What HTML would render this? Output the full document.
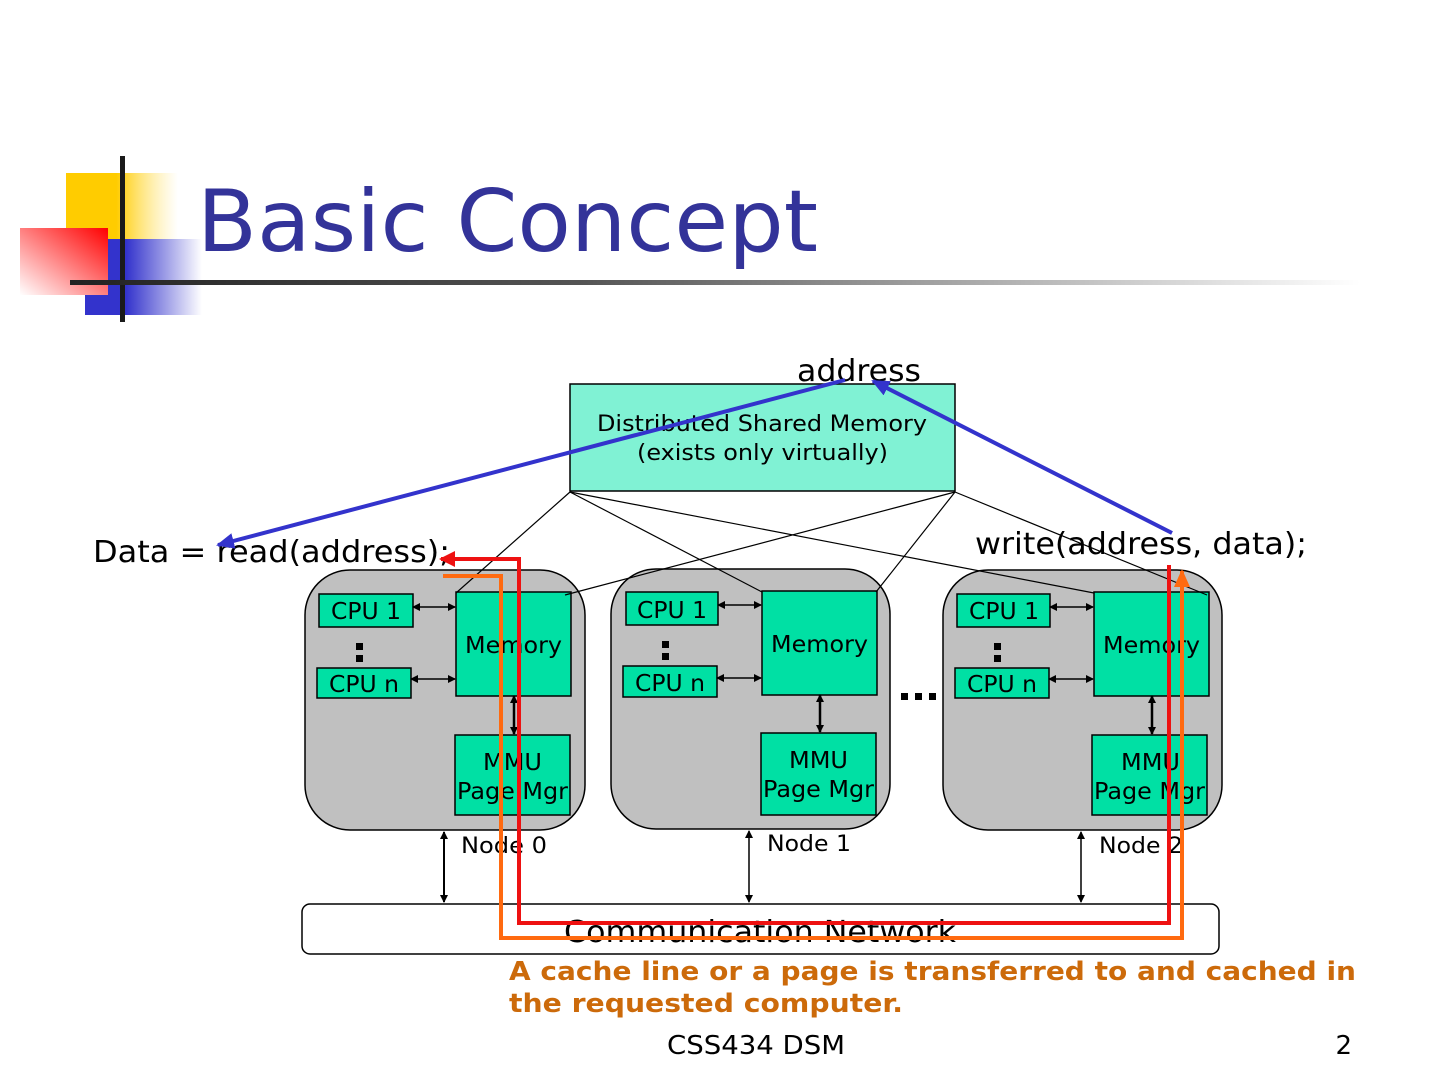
<!DOCTYPE html>
<html><head><meta charset="utf-8"><style>
html,body{margin:0;padding:0;background:#fff;}
svg{display:block;}
text{font-family:"DejaVu Sans","Liberation Sans",sans-serif;}
</style></head><body>
<svg width="1440" height="1080" viewBox="0 0 1440 1080" xmlns="http://www.w3.org/2000/svg">
<defs>
<linearGradient id="gy" x1="0" x2="1"><stop offset="0.45" stop-color="#ffcc00"/><stop offset="1" stop-color="#fff" stop-opacity="0.6"/></linearGradient>
<linearGradient id="gb" x1="0" x2="1"><stop offset="0.35" stop-color="#3333cc"/><stop offset="1" stop-color="#fff"/></linearGradient>
<linearGradient id="gr" x1="1" y1="0" x2="0" y2="1"><stop offset="0" stop-color="#ff0000"/><stop offset="1" stop-color="#fff"/></linearGradient>
<linearGradient id="gl" x1="0" x2="1"><stop offset="0" stop-color="#222"/><stop offset="0.4" stop-color="#555"/><stop offset="1" stop-color="#fff"/></linearGradient>
<marker id="ab" markerWidth="8" markerHeight="8" refX="7" refY="4" orient="auto-start-reverse" markerUnits="userSpaceOnUse"><path d="M0,0 L8,4 L0,8 Z" fill="#000"/></marker>
<marker id="ablue" markerWidth="18" markerHeight="16" refX="16" refY="8" orient="auto" markerUnits="userSpaceOnUse"><path d="M0,0 L18,8 L0,16 Z" fill="#3333cc"/></marker>
<marker id="ared" markerWidth="16" markerHeight="16" refX="14" refY="8" orient="auto" markerUnits="userSpaceOnUse"><path d="M0,0 L16,8 L0,16 Z" fill="#ee1111"/></marker>
<marker id="aor" markerWidth="18" markerHeight="16" refX="16" refY="8" orient="auto" markerUnits="userSpaceOnUse"><path d="M0,0 L18,8 L0,16 Z" fill="#ff6a10"/></marker>
</defs>
<rect x="66" y="173" width="112" height="66" fill="url(#gy)"/>
<rect x="85" y="239" width="117" height="76" fill="url(#gb)"/>
<rect x="20" y="228" width="88" height="67" fill="url(#gr)"/>
<rect x="120" y="156" width="5" height="166" fill="#1a1a1a"/>
<rect x="70" y="280" width="1290" height="5" fill="url(#gl)"/>
<text x="197" y="251" font-size="86" fill="#333399" textLength="621" lengthAdjust="spacingAndGlyphs">Basic Concept</text>

<rect x="570" y="384" width="385" height="107" fill="#80f2d4" stroke="#000" stroke-width="1.5"/>
<text x="597" y="431" font-size="22" textLength="330" lengthAdjust="spacingAndGlyphs">Distributed Shared Memory</text>
<text x="637" y="460" font-size="22" textLength="251" lengthAdjust="spacingAndGlyphs">(exists only virtually)</text>
<text x="797" y="381" font-size="30" textLength="124" lengthAdjust="spacingAndGlyphs">address</text>
<text x="93" y="562" font-size="30" textLength="357" lengthAdjust="spacingAndGlyphs">Data = read(address);</text>
<text x="975" y="554" font-size="30" textLength="332" lengthAdjust="spacingAndGlyphs">write(address, data);</text>

<g stroke="#000" stroke-width="1.5">
<rect x="305" y="570" width="280" height="260" rx="45" fill="#c0c0c0"/>
<rect x="611" y="569" width="279" height="260" rx="45" fill="#c0c0c0"/>
<rect x="943" y="570" width="279" height="260" rx="45" fill="#c0c0c0"/>
<g fill="#00e0a4">
<rect x="319" y="594" width="94" height="33"/><rect x="317" y="668" width="94" height="30"/>
<rect x="456" y="592" width="115" height="104"/><rect x="455" y="735" width="115" height="80"/>
<rect x="626" y="592" width="92" height="33"/><rect x="623" y="666" width="94" height="31"/>
<rect x="762" y="591" width="115" height="104"/><rect x="761" y="733" width="115" height="82"/>
<rect x="957" y="594" width="93" height="33"/><rect x="955" y="668" width="94" height="30"/>
<rect x="1094" y="592" width="115" height="104"/><rect x="1092" y="735" width="115" height="80"/>
</g>
<rect x="302" y="904" width="917" height="50" rx="8" fill="#fff"/>
</g>
<g font-size="23" lengthAdjust="spacingAndGlyphs">
<text x="331" y="619" textLength="70" lengthAdjust="spacingAndGlyphs">CPU 1</text><text x="329" y="692" textLength="70" lengthAdjust="spacingAndGlyphs">CPU n</text>
<text x="465" y="653" textLength="97" lengthAdjust="spacingAndGlyphs">Memory</text><text x="483" y="770" textLength="59" lengthAdjust="spacingAndGlyphs">MMU</text><text x="457" y="799" textLength="111" lengthAdjust="spacingAndGlyphs">Page Mgr</text>
<text x="637" y="618" textLength="70" lengthAdjust="spacingAndGlyphs">CPU 1</text><text x="635" y="691" textLength="70" lengthAdjust="spacingAndGlyphs">CPU n</text>
<text x="771" y="652" textLength="97" lengthAdjust="spacingAndGlyphs">Memory</text><text x="789" y="768" textLength="59" lengthAdjust="spacingAndGlyphs">MMU</text><text x="763" y="797" textLength="111" lengthAdjust="spacingAndGlyphs">Page Mgr</text>
<text x="969" y="619" textLength="70" lengthAdjust="spacingAndGlyphs">CPU 1</text><text x="967" y="692" textLength="70" lengthAdjust="spacingAndGlyphs">CPU n</text>
<text x="1103" y="653" textLength="97" lengthAdjust="spacingAndGlyphs">Memory</text><text x="1121" y="770" textLength="59" lengthAdjust="spacingAndGlyphs">MMU</text><text x="1094" y="799" textLength="111" lengthAdjust="spacingAndGlyphs">Page Mgr</text>
<text x="461" y="853" font-size="22" textLength="86" lengthAdjust="spacingAndGlyphs">Node 0</text><text x="767" y="851" font-size="22" textLength="84" lengthAdjust="spacingAndGlyphs">Node 1</text><text x="1099" y="853" font-size="22" textLength="84" lengthAdjust="spacingAndGlyphs">Node 2</text>
</g>
<g fill="#000">
<rect x="356" y="643" width="7" height="7"/><rect x="356" y="655" width="7" height="7"/>
<rect x="662" y="641" width="7" height="7"/><rect x="662" y="653" width="7" height="7"/>
<rect x="994" y="643" width="7" height="7"/><rect x="994" y="655" width="7" height="7"/>
<rect x="901" y="693" width="7" height="7"/><rect x="915" y="693" width="7" height="7"/><rect x="929" y="693" width="7" height="7"/>
</g>
<text x="564" y="942" font-size="30" textLength="392" lengthAdjust="spacingAndGlyphs">Communication Network</text>
<g stroke="#000" stroke-width="1.5" marker-start="url(#ab)" marker-end="url(#ab)">
<line x1="413" y1="607" x2="455" y2="607"/><line x1="411" y1="679" x2="455" y2="679"/><line x1="514" y1="696" x2="514" y2="734" stroke-width="2.5"/>
<line x1="718" y1="605" x2="761" y2="605"/><line x1="717" y1="678" x2="761" y2="678"/><line x1="820" y1="695" x2="820" y2="732" stroke-width="2.5"/>
<line x1="1050" y1="607" x2="1093" y2="607"/><line x1="1049" y1="679" x2="1093" y2="679"/><line x1="1152" y1="696" x2="1152" y2="734" stroke-width="2.5"/>
<line x1="444" y1="832" x2="444" y2="902" stroke-width="2"/><line x1="749" y1="831" x2="749" y2="902"/><line x1="1081" y1="832" x2="1081" y2="902"/>
</g>
<g stroke="#000" stroke-width="1.2">
<line x1="570" y1="492" x2="456" y2="593"/><line x1="570" y1="492" x2="762" y2="592"/><line x1="570" y1="492" x2="1094" y2="593"/>
<line x1="955" y1="492" x2="565" y2="595"/><line x1="955" y1="492" x2="876" y2="592"/><line x1="955" y1="492" x2="1207" y2="595"/>
</g>
<line x1="845" y1="380" x2="218" y2="545" stroke="#3333cc" stroke-width="4" marker-end="url(#ablue)"/>
<line x1="1172" y1="533" x2="873" y2="381" stroke="#3333cc" stroke-width="4" marker-end="url(#ablue)"/>
<polyline points="1169,565 1169,923 519,923 519,559 441,559" fill="none" stroke="#ee1111" stroke-width="4" marker-end="url(#ared)"/>
<polyline points="443,576 501,576 501,938 1182,938 1182,571" fill="none" stroke="#ff6a10" stroke-width="4" marker-end="url(#aor)"/>
<text x="509" y="980" font-size="26" font-weight="bold" fill="#cc6a0a" textLength="847" lengthAdjust="spacingAndGlyphs">A cache line or a page is transferred to and cached in</text>
<text x="509" y="1012" font-size="26" font-weight="bold" fill="#cc6a0a" textLength="394" lengthAdjust="spacingAndGlyphs">the requested computer.</text>
<text x="667" y="1054" font-size="26" textLength="178" lengthAdjust="spacingAndGlyphs">CSS434 DSM</text>
<text x="1352" y="1054" font-size="26" text-anchor="end">2</text>
</svg>
</body></html>
